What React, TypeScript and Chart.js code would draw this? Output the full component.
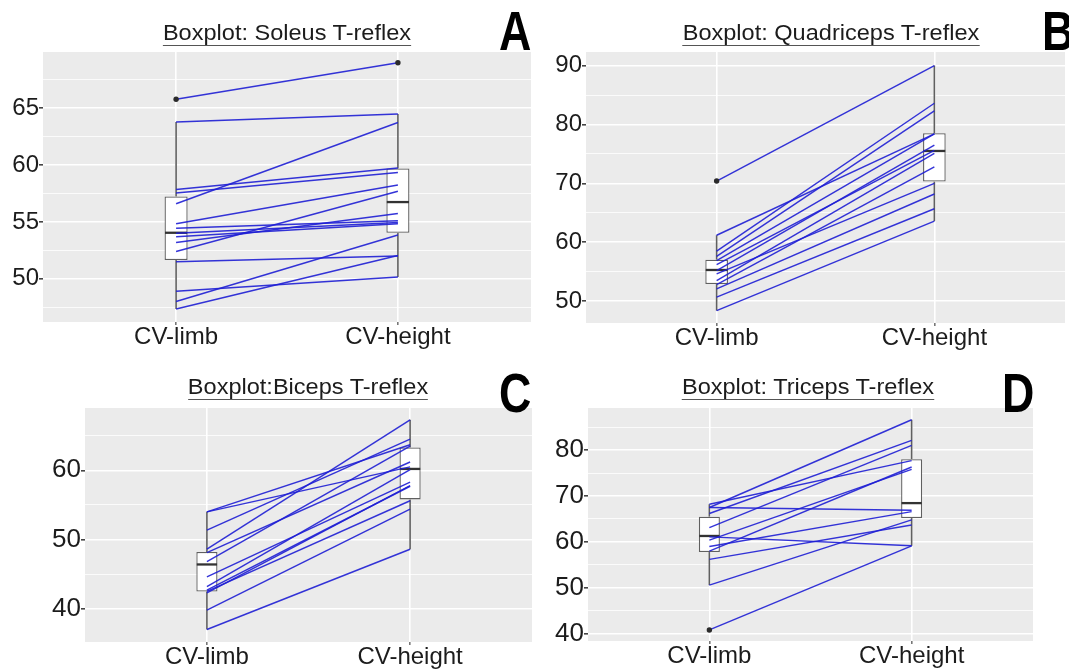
import React, { useEffect, useRef } from 'react';
import { Chart, registerables } from 'chart.js';

Chart.register(...registerables);
Chart.defaults.font.family = '"Liberation Sans", Arial, Helvetica, sans-serif';

// ---------- shared ----------
const CATEGORIES = ['CV-limb', 'CV-height'];

// ---------- Panel A : Soleus ----------
const soleusLimb = [65.8, 63.8, 56.6, 57.85, 57.55, 54.85, 52.4, 53.2, 54.45, 54.0, 53.7, 51.5, 48.0, 48.9, 47.35];
const soleusHeight = [69.0, 64.5, 63.75, 59.75, 59.35, 58.25, 57.7, 55.75, 55.1, 54.95, 54.85, 52.0, 53.85, 50.15, 52.05];
// [lower whisker, Q1, median, Q3, upper whisker]
const soleusLimbBox = [47.35, 51.65, 54.05, 57.25, 63.8];
const soleusHeightBox = [50.15, 54.05, 56.75, 59.7, 64.5];
const soleusLimbOutliers = [65.8];
const soleusHeightOutliers = [69.0];
const soleusTicks = [50, 55, 60, 65];
const soleusMinorTicks = [47.5, 52.5, 57.5, 62.5, 67.5];

// ---------- Panel B : Quadriceps ----------
const quadLimb = [70.4, 61.2, 58.5, 57.6, 56.9, 56.2, 55.2, 54.65, 53.5, 52.8, 52.1, 50.7, 48.4];
const quadHeight = [90.0, 78.4, 83.6, 82.3, 78.4, 75.6, 76.5, 70.0, 75.1, 72.8, 68.2, 65.7, 63.6];
const quadLimbBox = [48.4, 52.9, 55.3, 57.05, 61.2];
const quadHeightBox = [63.6, 70.3, 75.5, 78.5, 90.0];
const quadLimbOutliers = [70.4];
const quadHeightOutliers: number[] = [];
const quadTicks = [50, 60, 70, 80, 90];
const quadMinorTicks = [55, 65, 75, 85];

// ---------- Panel C : Biceps ----------
const bicepsLimb = [54.0, 54.0, 51.35, 48.6, 48.1, 46.8, 44.6, 43.2, 42.7, 42.5, 42.3, 39.8, 37.0];
const bicepsHeight = [63.7, 60.5, 64.5, 67.3, 61.2, 63.5, 58.3, 60.1, 57.7, 55.6, 57.8, 54.4, 48.6];
const bicepsLimbBox = [37.0, 42.5, 46.4, 48.2, 54.0];
const bicepsHeightBox = [48.6, 55.8, 60.2, 63.3, 67.3];
const bicepsLimbOutliers: number[] = [];
const bicepsHeightOutliers: number[] = [];
const bicepsTicks = [40, 50, 60];
const bicepsMinorTicks = [45, 55, 65];

// ---------- Panel D : Triceps ----------
const tricepsLimb = [68.2, 67.5, 67.5, 66.2, 63.1, 61.1, 60.4, 59.0, 58.0, 56.2, 50.6, 40.85];
const tricepsHeight = [77.7, 86.6, 66.9, 82.1, 81.0, 59.15, 75.8, 66.6, 76.3, 63.7, 64.8, 59.15];
const tricepsLimbBox = [50.6, 57.8, 61.3, 65.5, 68.2];
const tricepsHeightBox = [59.15, 65.2, 68.45, 78.0, 86.6];
const tricepsLimbOutliers = [40.85];
const tricepsHeightOutliers: number[] = [];
const tricepsTicks = [40, 50, 60, 70, 80];
const tricepsMinorTicks = [45, 55, 65, 75, 85];

// ---------- styles ----------
const PANEL_BG = '#EBEBEB';
const LINE_BLUE = 'rgba(30,30,212,0.9)';
const BOX_GREY = '#606060';
const MEDIAN = '#333333';
const TEXT = '#1c1c1c';

const bgPlugin = {
  id: 'panelBg',
  beforeDraw(chart: any) {
    const { ctx, chartArea } = chart;
    if (!chartArea) return;
    ctx.save();
    ctx.fillStyle = PANEL_BG;
    ctx.fillRect(chartArea.left, chartArea.top, chartArea.right - chartArea.left, chartArea.bottom - chartArea.top);
    ctx.restore();
  },
};

type Geo = { left: number; top: number; w: number; h: number; axisW: number; axisH: number; padTop: number; padRight: number; tickFont: number; xFont: number };

type PanelProps = {
  limb: number[]; height: number[];
  limbBox: number[]; heightBox: number[];
  limbOut: number[]; heightOut: number[];
  yMin: number; yMax: number;
  majors: number[]; minors: number[];
  geo: Geo;
};

function Panel(p: PanelProps) {
  const ref = useRef<HTMLCanvasElement | null>(null);
  useEffect(() => {
    const hw = 0.05;
    const datasets: any[] = [];
    p.limb.forEach((a, i) => {
      datasets.push({
        type: 'line',
        data: [{ x: 1, y: a }, { x: 2, y: p.height[i] }],
        borderColor: LINE_BLUE, borderWidth: 1.45, pointRadius: 0, fill: false, order: 1,
      });
    });
    datasets.push({
      type: 'scatter',
      data: [...p.limbOut.map((y) => ({ x: 1, y })), ...p.heightOut.map((y) => ({ x: 2, y }))],
      pointRadius: 2.7, pointBackgroundColor: '#2b2b2b', pointBorderWidth: 0, order: 0,
    });
    ([[1, p.limbBox], [2, p.heightBox]] as [number, number[]][]).forEach(([x, b]) => {
      datasets.push({
        type: 'line', data: [{ x: x - hw, y: b[2] }, { x: x + hw, y: b[2] }],
        borderColor: MEDIAN, borderWidth: 2.3, pointRadius: 0, fill: false, order: 2,
      });
      datasets.push({
        type: 'line', data: [{ x, y: b[0] }, { x, y: b[1] }],
        borderColor: BOX_GREY, borderWidth: 1.6, pointRadius: 0, fill: false, order: 4,
      });
      datasets.push({
        type: 'line', data: [{ x, y: b[3] }, { x, y: b[4] }],
        borderColor: BOX_GREY, borderWidth: 1.6, pointRadius: 0, fill: false, order: 4,
      });
    });
    datasets.push({
      type: 'bar',
      data: [{ x: 1, y: [p.limbBox[1], p.limbBox[3]] }, { x: 2, y: [p.heightBox[1], p.heightBox[3]] }],
      backgroundColor: '#ffffff', borderColor: BOX_GREY, borderWidth: 1.3, borderSkipped: false,
      barPercentage: 0.13, categoryPercentage: 0.8, order: 3,
    });

    const g = p.geo;
    const allY = [...p.majors, ...p.minors].filter((v) => v >= p.yMin && v <= p.yMax).sort((a, b) => a - b);

    const chart = new Chart(ref.current as HTMLCanvasElement, {
      type: 'line',
      data: { datasets },
      options: {
        animation: false,
        responsive: false,
        maintainAspectRatio: false,
        devicePixelRatio: 1,
        layout: { padding: { top: g.padTop, right: g.padRight, left: 0, bottom: 0 } },
        plugins: { legend: { display: false }, tooltip: { enabled: false }, title: { display: false } },
        scales: {
          x: {
            type: 'linear', min: 0.4, max: 2.6, offset: false,
            afterBuildTicks: (s: any) => { s.ticks = [{ value: 1 }, { value: 2 }]; },
            afterFit: (s: any) => { s.height = g.axisH; },
            ticks: {
              callback: (v: any) => (v === 1 ? CATEGORIES[0] : v === 2 ? CATEGORIES[1] : ''),
              font: { size: g.xFont, lineHeight: 1 }, color: TEXT, padding: 0,
              autoSkip: false, maxRotation: 0, minRotation: 0,
            },
            grid: { offset: false, color: '#ffffff', lineWidth: 1.6, tickColor: '#777', tickLength: 3, drawTicks: true },
            border: { display: false },
          },
          y: {
            type: 'linear', min: p.yMin, max: p.yMax,
            afterBuildTicks: (s: any) => { s.ticks = allY.map((v) => ({ value: v })); },
            afterFit: (s: any) => { s.width = g.axisW; },
            ticks: {
              callback: (v: any) => (p.majors.includes(v) ? String(v) : ''),
              font: { size: g.tickFont, lineHeight: 1 }, color: TEXT, padding: 0, autoSkip: false,
            },
            grid: {
              color: '#ffffff',
              lineWidth: (ctx: any) => (ctx.tick && p.majors.includes(ctx.tick.value) ? 1.6 : 0.8),
              tickColor: (ctx: any) => (ctx.tick && p.majors.includes(ctx.tick.value) ? '#444' : 'rgba(0,0,0,0)'),
              tickLength: 4, drawTicks: true,
            },
            border: { display: false },
          },
        },
      } as any,
      plugins: [bgPlugin],
    });
    return () => chart.destroy();
  }, []);
  const g = p.geo;
  return (
    <canvas
      ref={ref}
      width={g.w}
      height={g.h}
      style={{ position: 'absolute', left: g.left, top: g.top, width: g.w, height: g.h }}
    />
  );
}

function Title({ text, cx, top, size, sx }: { text: string; cx: number; top: number; size: number; sx: number }) {
  return (
    <div
      style={{
        position: 'absolute', left: cx - 300, top, width: 600, textAlign: 'center', lineHeight: 1,
        fontFamily: '"Liberation Sans", Arial, sans-serif', fontSize: size, color: TEXT,
        transform: `scaleX(${sx})`, transformOrigin: 'center top', whiteSpace: 'nowrap',
      }}
    >
      <span style={{ display: 'inline-block', borderBottom: '1.5px solid #555', paddingBottom: 1 }}>{text}</span>
    </div>
  );
}

function Letter({ text, left, top }: { text: string; left: number; top: number }) {
  return (
    <div
      style={{
        position: 'absolute', left, top, lineHeight: 1, fontFamily: '"Liberation Sans", Arial, sans-serif',
        fontWeight: 'bold', fontSize: 56, color: '#000', transform: 'scaleX(0.8)', transformOrigin: 'left top',
        whiteSpace: 'nowrap',
      }}
    >
      {text}
    </div>
  );
}

export default function App() {
  return (
    <div style={{ position: 'absolute', left: 0, top: 0, width: 1069, height: 669, background: '#fff', overflow: 'hidden' }}>
      <Panel
        limb={soleusLimb} height={soleusHeight} limbBox={soleusLimbBox} heightBox={soleusHeightBox}
        limbOut={soleusLimbOutliers} heightOut={soleusHeightOutliers}
        yMin={46.2} yMax={69.95} majors={soleusTicks} minors={soleusMinorTicks}
        geo={{ left: 0, top: 40, w: 535, h: 315, axisW: 43, axisH: 33, padTop: 6, padRight: 4, tickFont: 24, xFont: 24 }}
      />
      <Panel
        limb={quadLimb} height={quadHeight} limbBox={quadLimbBox} heightBox={quadHeightBox}
        limbOut={quadLimbOutliers} heightOut={quadHeightOutliers}
        yMin={46.3} yMax={92.3} majors={quadTicks} minors={quadMinorTicks}
        geo={{ left: 540, top: 40, w: 529, h: 315, axisW: 46, axisH: 32, padTop: 9, padRight: 0, tickFont: 24, xFont: 24 }}
      />
      <Panel
        limb={bicepsLimb} height={bicepsHeight} limbBox={bicepsLimbBox} heightBox={bicepsHeightBox}
        limbOut={bicepsLimbOutliers} heightOut={bicepsHeightOutliers}
        yMin={35.2} yMax={69.0} majors={bicepsTicks} minors={bicepsMinorTicks}
        geo={{ left: 0, top: 395, w: 540, h: 274, axisW: 85, axisH: 27, padTop: 6, padRight: 8, tickFont: 26, xFont: 24 }}
      />
      <Panel
        limb={tricepsLimb} height={tricepsHeight} limbBox={tricepsLimbBox} heightBox={tricepsHeightBox}
        limbOut={tricepsLimbOutliers} heightOut={tricepsHeightOutliers}
        yMin={38.44} yMax={89.15} majors={tricepsTicks} minors={tricepsMinorTicks}
        geo={{ left: 540, top: 395, w: 529, h: 274, axisW: 48, axisH: 28, padTop: 6, padRight: 36, tickFont: 26, xFont: 24 }}
      />
      <Title text="Boxplot: Soleus T-reflex" cx={287} top={22} size={22} sx={1.07} />
      <Title text="Boxplot: Quadriceps T-reflex" cx={831} top={22} size={22} sx={1.07} />
      <Title text="Boxplot:Biceps T-reflex" cx={308} top={376} size={22} sx={1.07} />
      <Title text="Boxplot: Triceps T-reflex" cx={808} top={376} size={22} sx={1.07} />
      <Letter text="A" left={499} top={3} />
      <Letter text="B" left={1042} top={3} />
      <Letter text="C" left={499} top={365} />
      <Letter text="D" left={1002} top={365} />
    </div>
  );
}
